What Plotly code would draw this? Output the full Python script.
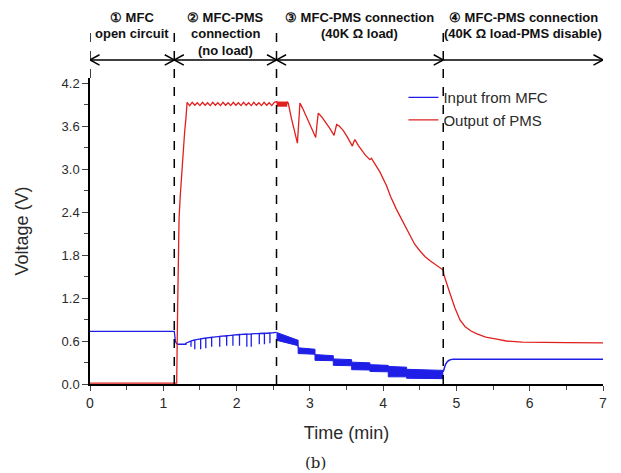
import plotly.graph_objects as go

# --- data (time in min, voltage in V) ---
# blue: input from MFC, open circuit and PMS connection (no load) incl. the downward spikes
blue_t = [0.00, 1.15, 1.165, 1.18, 1.20, 1.25, 1.30,
          1.31, 1.31, 1.31, 1.378, 1.378, 1.378, 1.43, 1.43, 1.43, 1.51, 1.51, 1.51,
          1.58, 1.58, 1.58, 1.66, 1.66, 1.66, 1.77, 1.77, 1.77, 1.865, 1.865, 1.865,
          1.95, 1.95, 1.95, 2.04, 2.04, 2.04, 2.14, 2.14, 2.14, 2.20, 2.20, 2.20,
          2.31, 2.31, 2.31, 2.38, 2.38, 2.38, 2.455, 2.455, 2.455, 2.545]
blue_v = [0.735, 0.735, 0.60, 0.565, 0.555, 0.55, 0.555,
          0.57, 0.544, 0.57, 0.60, 0.52, 0.60, 0.615, 0.484, 0.615, 0.63, 0.484, 0.63,
          0.642, 0.498, 0.642, 0.652, 0.52, 0.652, 0.664, 0.52, 0.664, 0.673, 0.535, 0.673,
          0.682, 0.535, 0.682, 0.69, 0.535, 0.69, 0.697, 0.52, 0.697, 0.70, 0.52, 0.70,
          0.705, 0.553, 0.705, 0.708, 0.553, 0.708, 0.712, 0.567, 0.712, 0.72]

# blue: 40K load, noisy stepped band (upper / lower envelope)
band_t = [2.545, 2.84, 2.84, 3.07, 3.07, 3.32, 3.32, 3.57, 3.57, 3.82,
          3.82, 4.07, 4.07, 4.32, 4.32, 4.57, 4.57, 4.82]
band_hi = [0.72, 0.61, 0.505, 0.485, 0.41, 0.395, 0.35, 0.34, 0.305, 0.295,
           0.27, 0.26, 0.245, 0.235, 0.205, 0.20, 0.195, 0.19]
band_lo = [0.61, 0.535, 0.425, 0.415, 0.33, 0.325, 0.26, 0.255, 0.20, 0.195,
           0.175, 0.17, 0.10, 0.10, 0.08, 0.08, 0.075, 0.075]

# blue: PMS disabled
blue2_t = [4.82, 4.835, 4.85, 4.87, 4.89, 4.92, 4.96, 7.00]
blue2_v = [0.17, 0.23, 0.27, 0.305, 0.325, 0.34, 0.345, 0.345]

# red: output of PMS
red_t = [0.00, 1.183, 1.195, 1.205, 1.215, 1.23, 1.25, 1.27, 1.29, 1.31,
         1.325, 1.36, 1.395, 1.43, 1.465, 1.50, 1.535, 1.57, 1.605, 1.64, 1.675,
         1.71, 1.745, 1.78, 1.815, 1.85, 1.885, 1.92, 1.955, 1.99, 2.025, 2.06,
         2.095, 2.13, 2.165, 2.20, 2.235, 2.27, 2.305, 2.34, 2.375, 2.41, 2.445,
         2.48, 2.515,
         2.55, 2.56, 2.57, 2.58, 2.59, 2.60, 2.61, 2.62, 2.63, 2.64, 2.65, 2.66,
         2.67, 2.68, 2.69, 2.705,
         2.75, 2.80, 2.83, 2.845, 2.865, 2.90, 2.955, 3.02, 3.08, 3.10, 3.115,
         3.16, 3.21, 3.27, 3.33, 3.35, 3.365, 3.40, 3.455, 3.52, 3.58, 3.60, 3.615,
         3.66, 3.705, 3.76, 3.82, 3.84, 3.87, 3.955, 4.045, 4.10, 4.18, 4.25, 4.32,
         4.38, 4.43, 4.50, 4.57, 4.64, 4.71, 4.77, 4.82,
         4.83, 4.86, 4.91, 4.98, 5.05, 5.12, 5.20, 5.28, 5.40, 5.55, 5.68, 5.90,
         6.14, 6.50, 7.00]
red_v = [0.012, 0.012, 1.0, 1.8, 2.3, 2.6, 2.95, 3.22, 3.5, 3.72,
         3.93, 3.885, 3.93, 3.89, 3.925, 3.885, 3.93, 3.89, 3.925, 3.885, 3.93,
         3.89, 3.925, 3.885, 3.93, 3.89, 3.925, 3.885, 3.93, 3.89, 3.925, 3.885,
         3.93, 3.89, 3.925, 3.885, 3.93, 3.89, 3.925, 3.885, 3.93, 3.89, 3.925,
         3.885, 3.93,
         3.94, 3.87, 3.94, 3.87, 3.94, 3.87, 3.94, 3.87, 3.94, 3.87, 3.94, 3.87,
         3.94, 3.87, 3.94, 3.92,
         3.70, 3.48, 3.36, 3.60, 3.92, 3.85, 3.73, 3.58, 3.44, 3.65, 3.78,
         3.73, 3.66, 3.57, 3.47, 3.57, 3.62, 3.60, 3.54, 3.43, 3.32, 3.38, 3.41,
         3.33, 3.26, 3.19, 3.13, 3.15, 3.10, 2.96, 2.77, 2.62, 2.44, 2.30, 2.17,
         2.04, 1.95, 1.86, 1.78, 1.72, 1.67, 1.63, 1.59,
         1.52, 1.42, 1.27, 1.06, 0.89, 0.80, 0.74, 0.70, 0.655, 0.625, 0.60, 0.585,
         0.58, 0.578, 0.575]

# stage boundaries and header lines
stage_edges = [0.0, 1.15, 2.545, 4.82, 7.0]
stage_labels = [["① MFC", "open circuit"],
                ["② MFC-PMS", "connection", "(no load)"],
                ["③ MFC-PMS connection", "(40K Ω load)"],
                ["④ MFC-PMS connection", "(40K Ω load-PMS disable)"]]

BLUE = "#1e1ee6"
RED = "#e0201e"
TXT = "#2a2a2a"

fig = go.Figure()
fig.add_trace(go.Scatter(x=blue_t, y=blue_v, mode="lines", name="Input from MFC",
                         legendgroup="in", line=dict(color=BLUE, width=1.3)))
fig.add_trace(go.Scatter(x=band_t, y=band_lo, mode="lines", showlegend=False,
                         legendgroup="in", line=dict(color=BLUE, width=1)))
fig.add_trace(go.Scatter(x=band_t, y=band_hi, mode="lines", showlegend=False,
                         legendgroup="in", fill="tonexty", fillcolor=BLUE,
                         line=dict(color=BLUE, width=1)))
fig.add_trace(go.Scatter(x=blue2_t, y=blue2_v, mode="lines", showlegend=False,
                         legendgroup="in", line=dict(color=BLUE, width=1.5)))
fig.add_trace(go.Scatter(x=red_t, y=red_v, mode="lines", name="Output of PMS",
                         line=dict(color=RED, width=1.3)))

# dashed stage separators, running up into the header
top_dash = 1.163
for x in stage_edges[1:-1]:
    fig.add_shape(type="line", xref="x", yref="paper", x0=x, x1=x, y0=0, y1=top_dash,
                  line=dict(color="black", width=1.5, dash="dash"))
fig.add_shape(type="line", xref="x", yref="paper", x0=0, x1=0, y0=1.0, y1=top_dash,
              line=dict(color="black", width=1.5, dash="dash"))

# double arrows + header text for each stage
ya = 1.059
hx, hy = 0.13, 0.017
line_y = [1.199, 1.144, 1.091]
for i in range(4):
    a, b = stage_edges[i], stage_edges[i + 1]
    fig.add_shape(type="line", xref="x", yref="paper", x0=a, x1=b, y0=ya, y1=ya,
                  line=dict(color="black", width=1.5))
    fig.add_shape(type="path", xref="x", yref="paper",
                  path=f"M{b - hx},{ya + hy} L{b},{ya} L{b - hx},{ya - hy}",
                  line=dict(color="black", width=1.5))
    if i < 3:
        fig.add_shape(type="path", xref="x", yref="paper",
                      path=f"M{a + hx},{ya + hy} L{a},{ya} L{a + hx},{ya - hy}",
                      line=dict(color="black", width=1.5))
    for j, txt in enumerate(stage_labels[i]):
        fig.add_annotation(x=(a + b) / 2, y=line_y[j], xref="x", yref="paper",
                           text=f"<b>{txt}</b>", showarrow=False,
                           xanchor="center", yanchor="middle",
                           font=dict(family="Liberation Sans, Arial", size=13, color="#111"))

fig.add_annotation(x=0.4386, y=-0.294, xref="paper", yref="paper", text="(b)",
                   showarrow=False, font=dict(family="DejaVu Serif", size=15, color="#222"))

# the page body adds an 8px offset, so the figure is drawn 8px smaller
tickfont = dict(family="Arial, Liberation Sans", size=13, color=TXT)
fig.update_layout(
    width=613, height=465,
    margin=dict(l=82, r=18, t=70, b=89),
    paper_bgcolor="white", plot_bgcolor="white",
    font=dict(family="Arial, Liberation Sans", color=TXT),
    legend=dict(x=0.611, y=0.99, xanchor="left", yanchor="top",
                bgcolor="rgba(0,0,0,0)", font=dict(size=15, color=TXT),
                tracegroupgap=0, itemwidth=30),
    xaxis=dict(range=[0, 7], dtick=1, ticks="outside", ticklen=5, tickwidth=1.2,
               minor=dict(dtick=0.5, ticks="outside", ticklen=4),
               showline=True, linecolor="black", linewidth=1.5, showgrid=False,
               zeroline=False, tickfont=dict(family="Arial, Liberation Sans", size=14, color=TXT),
               title=dict(text="Time (min)", font=dict(size=18, color=TXT), standoff=17)),
    yaxis=dict(range=[0, 4.27], dtick=0.6, tickformat=".1f", ticks="outside", ticklen=6,
               tickwidth=1.2, minor=dict(dtick=0.3, ticks="outside", ticklen=4),
               showline=True, linecolor="black", linewidth=1.5, showgrid=False,
               zeroline=False, tickfont=tickfont,
               title=dict(text="Voltage (V)", font=dict(size=18, color=TXT), standoff=28)),
    xaxis2=dict(range=[0, 7], overlaying="x", side="top", anchor="y", dtick=1,
                ticks="inside", ticklen=5, minor=dict(dtick=0.5, ticks="inside", ticklen=4),
                showticklabels=False, showline=True, linecolor="black", linewidth=1.5,
                showgrid=False, zeroline=False),
    yaxis2=dict(range=[0, 4.27], overlaying="y", side="right", anchor="x", dtick=0.6,
                ticks="inside", ticklen=6, minor=dict(dtick=0.3, ticks="inside", ticklen=4),
                showticklabels=False, showline=True, linecolor="black", linewidth=1.5,
                showgrid=False, zeroline=False),
)

fig.write_html("out.html")
